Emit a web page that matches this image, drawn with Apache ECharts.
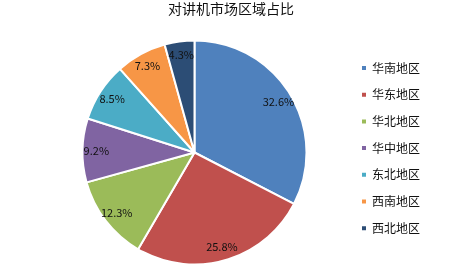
<!DOCTYPE html>
<html>
<head>
<meta charset="utf-8">
<script src="https://cdn.jsdelivr.net/npm/echarts@6/dist/echarts.min.js"></script>
<style>
  html, body { margin: 0; padding: 0; background: #ffffff; }
  #chart { width: 467px; height: 278px; }
</style>
</head>
<body>
<div id="chart"></div>
<script>
// Regional share of the two-way radio market (percent)
const regions = ['华南地区', '华东地区', '华北地区', '华中地区', '东北地区', '西南地区', '西北地区'];
const shares = [32.6, 25.8, 12.3, 9.2, 8.5, 7.3, 4.3];
const palette = ['#4F81BD', '#C0504D', '#9BBB59', '#8064A2', '#4BACC6', '#F79646', '#2C4D75'];

const pieData = regions.map((name, i) => ({ name, value: shares[i] }));
const font = '"Noto Sans CJK SC", "Noto Sans", sans-serif';
const center = [194.5, 152.5];
const R = 112;

const chart = echarts.init(document.getElementById('chart'), null, { renderer: 'canvas' });
chart.setOption({
  animation: false,
  color: palette,
  title: {
    text: '对讲机市场区域占比',
    left: 231,
    textAlign: 'center',
    top: 0,
    padding: [2, 0, 0, 0],
    textStyle: { fontFamily: font, fontSize: 14, fontWeight: 'normal', color: '#111' }
  },
  legend: {
    orient: 'vertical',
    left: 360,
    top: 61,
    padding: 0,
    icon: 'rect',
    itemWidth: 6,
    itemHeight: 6,
    itemGap: 12.7,
    data: regions,
    textStyle: { fontFamily: font, fontSize: 12, color: '#111', lineHeight: 14 }
  },
  series: [
    {
      // the visible pie
      type: 'pie',
      center: center,
      radius: [0, R],
      startAngle: 90,
      clockwise: true,
      data: pieData,
      itemStyle: { borderColor: '#ffffff', borderWidth: 2 },
      label: { show: false },
      labelLine: { show: false },
      emphasis: { disabled: true }
    },
    {
      // transparent ring that carries the percentage labels near the rim
      type: 'pie',
      center: center,
      radius: [R * 0.7, R],
      startAngle: 90,
      clockwise: true,
      silent: true,
      data: pieData,
      itemStyle: { color: 'rgba(0,0,0,0)', borderWidth: 0 },
      label: {
        show: true,
        position: 'inside',
        formatter: p => p.value.toFixed(1) + '%',
        fontFamily: font,
        fontSize: 11,
        color: '#111'
      },
      labelLine: { show: false },
      emphasis: { disabled: true }
    }
  ]
});
</script>
</body>
</html>
